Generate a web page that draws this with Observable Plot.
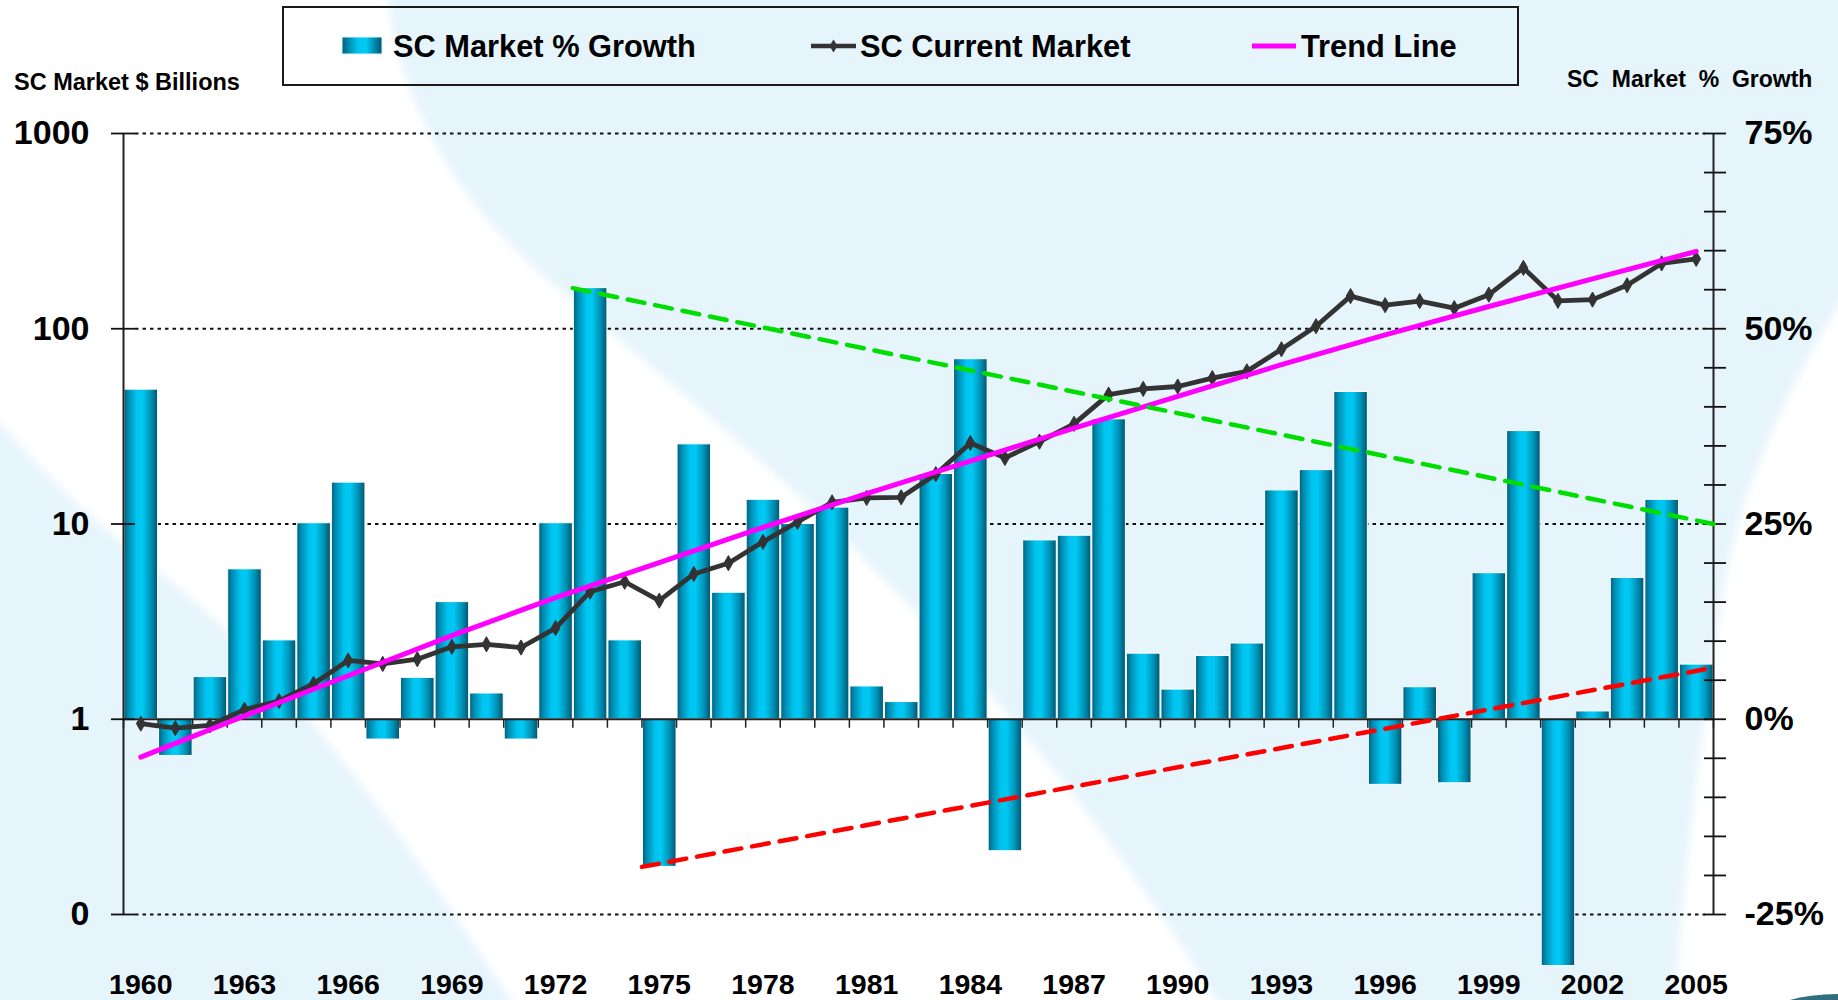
<!DOCTYPE html>
<html>
<head>
<meta charset="utf-8">
<script src="https://cdn.jsdelivr.net/npm/d3@7"></script>
<script src="https://cdn.jsdelivr.net/npm/@observablehq/plot@0.6"></script>
<style>
  html, body { margin: 0; padding: 0; background: #e6f4fc; }
  #wrap { position: relative; width: 1838px; height: 1000px; overflow: hidden;
          font-family: "Liberation Sans", Arial, Helvetica, sans-serif; font-weight: bold; color: #000; }
  #wrap > svg { position: absolute; left: 0; top: 0; }
</style>
</head>
<body>
<div id="wrap">
  <svg id="bg" width="1838" height="1000">
    <defs><filter id="soft" x="-10%" y="-10%" width="120%" height="120%"><feGaussianBlur stdDeviation="5"/></filter></defs>
    <rect width="1838" height="1000" fill="#e6f4fc"/>
    <path fill="#ffffff" filter="url(#soft)" d="M-30,-30 L385,-30 C 392,90 450,200 560,290 C 680,390 800,490 885,580 C 1010,710 1120,840 1235,1030 L530,1030 C 420,860 300,680 150,565 C 90,520 40,470 -30,390 Z"/>
    <path fill="#ffffff" filter="url(#soft)" d="M1870,255 C 1795,370 1745,470 1725,580 C 1705,700 1685,850 1672,1030 L1870,1030 Z"/>
    <ellipse cx="1838" cy="1016" rx="70" ry="22" fill="#2f6f7e"/>
    <ellipse cx="1842" cy="1020" rx="62" ry="18" fill="#e6f4fc"/>
  </svg>
</div>
<script>
// ---------------- data ----------------
const years = [1960,1961,1962,1963,1964,1965,1966,1967,1968,1969,
               1970,1971,1972,1973,1974,1975,1976,1977,1978,1979,
               1980,1981,1982,1983,1984,1985,1986,1987,1988,1989,
               1990,1991,1992,1993,1994,1995,1996,1997,1998,1999,
               2000,2001,2002,2003,2004,2005];
// SC Market % Growth (right axis)
const growthPct = [42.2,-4.7,5.4,19.2,10.1,25.1,30.3,-2.6,5.3,15.0,
                   3.3,-2.6,25.1,55.2,10.1,-18.9,35.2,16.2,28.1,25.0,
                   27.1,4.2,2.2,31.4,46.1,-16.9,22.9,23.5,38.4,8.4,
                   3.8,8.1,9.7,29.3,31.9,41.9,-8.4,4.1,-8.2,18.7,
                   36.9,-31.6,1.0,18.1,28.1,7.0];
// SC Current Market, $ billions (left log axis)
const marketBillions = [0.95,0.90,0.93,1.12,1.24,1.52,2.0,1.92,2.03,2.35,
                        2.42,2.33,2.93,4.5,5.06,4.05,5.55,6.3,8.1,10.25,
                        12.9,13.6,13.7,18.0,26.0,21.8,26.4,32.6,46.0,49.2,
                        50.6,55.9,60.5,78.5,103,147,132,138.5,127.5,149.5,
                        205,139,141,167,216,228];
// Trend line, $ billions, read every 3 years
const trendYears = [1960,1963,1966,1969,1972,1975,1978,1981,1984,1987,1990,1993,1996,1999,2002,2005];
const trendBillions = [0.64,1.04,1.67,2.68,4.2,6.35,9.6,14.3,21.0,31.0,45.0,65.5,93,130,180,249];
// Green dashed line through growth peaks (x = bar edges: start of 1973 to end of 2005)
const peakLineX = [1973, 2006];
const peakLinePct = [55.2, 25];
// Red dashed line through growth troughs (start of 1975 to end of 2005)
const troughLineX = [1975, 2006];
const troughLinePct = [-18.9, 6.6];
// Ticks
const leftTickValues = [0.1, 1, 10, 100, 1000];
const leftTickLabels = ["0", "1", "10", "100", "1000"];
const rightTickValues = [-25, 0, 25, 50, 75];
const rightTickLabels = ["-25%", "0%", "25%", "50%", "75%"];
const rightMinorTicks = [-20,-15,-10,-5,5,10,15,20,30,35,40,45,55,60,65,70];
const gridPct = [-25, 25, 50, 75];
const xLabelYears = [1960,1963,1966,1969,1972,1975,1978,1981,1984,1987,1990,1993,1996,1999,2002,2005];
const yearEdges = [...years, 2006];

// ---------------- tables ----------------
const growthRows = years.map((year, i) => ({year, growth: growthPct[i]}));
const marketRows = years.map((year, i) => ({year, value: marketBillions[i]}));
const trendRows = trendYears.map((year, i) => ({year, value: trendBillions[i]}));
const peakRows = peakLineX.map((x, i) => ({x, pct: peakLinePct[i]}));
const troughRows = troughLineX.map((x, i) => ({x, pct: troughLinePct[i]}));

const W = 1838, H = 1000;
const frame = {width: W, height: H, marginTop: 133, marginRight: 125, marginBottom: 86, marginLeft: 123};
const font = '"Liberation Sans", Arial, Helvetica, sans-serif';
const baseStyle = {background: "transparent", overflow: "visible", fontFamily: font, fontWeight: "bold", fontSize: "34px", color: "#000"};
const xDomain = [1960, 2006];

// Layer A: grid, bars, zero axis, right axis
const plotA = Plot.plot({
  ...frame, style: baseStyle,
  x: {domain: xDomain, axis: null},
  y: {domain: [-25, 75], label: null},
  marks: [
    Plot.ruleY(gridPct, {stroke: "#111", strokeWidth: 2.2, strokeDasharray: "3.5,4", insetLeft: 12, insetRight: 8}),
    Plot.rectY(growthRows, {x: "year", interval: 1, y: "growth", fill: "url(#barGrad)", stroke: "#ffffff", strokeWidth: 1}),
    Plot.ruleX(yearEdges, {x: d => d, y1: 0, y2: -1.15, stroke: "#222", strokeWidth: 1.5}),
    Plot.ruleY([0], {stroke: "#222", strokeWidth: 2}),
    Plot.ruleX([2006], {y1: -25, y2: 75, stroke: "#222", strokeWidth: 2}),
    Plot.axisY({anchor: "right", ticks: rightMinorTicks, tickSize: 22, dx: -10, tickFormat: () => "", label: null, strokeWidth: 1.8, stroke: "#111"}),
    Plot.axisY({anchor: "right", ticks: rightTickValues, tickSize: 22, dx: -10, tickPadding: 19, label: null,
                tickFormat: d => rightTickLabels[rightTickValues.indexOf(d)], fontSize: 34, fontWeight: "bold", strokeWidth: 1.8, stroke: "#111"})
  ]
});

// Layer B: log scale lines, left axis, year labels
const plotB = Plot.plot({
  ...frame, style: baseStyle,
  x: {domain: xDomain},
  y: {type: "log", domain: [0.1, 1000], label: null},
  marks: [
    Plot.ruleX([1960], {y1: 0.1, y2: 1000, stroke: "#222", strokeWidth: 2}),
    Plot.axisY({anchor: "left", ticks: leftTickValues, tickSize: 24, dx: 12, tickPadding: 22, label: null,
                tickFormat: d => leftTickLabels[leftTickValues.indexOf(d)], fontSize: 34, fontWeight: "bold", strokeWidth: 1.8, stroke: "#111"}),
    Plot.axisX({anchor: "bottom", ticks: xLabelYears.map(y => y + 0.5), tickSize: 0, tickPadding: 59, label: null,
                tickFormat: d => String(Math.round(d - 0.5)), fontSize: 28.5, fontWeight: "bold"}),
    Plot.line(marketRows, {x: d => d.year + 0.5, y: "value", stroke: "#333333", strokeWidth: 4.8, strokeLinejoin: "round"}),
    Plot.dot(marketRows, {x: d => d.year + 0.5, y: "value", symbol: "diamond", r: 4.6, fill: "#333333", stroke: "#333333", strokeWidth: 1}),
    Plot.line(trendRows, {x: d => d.year + 0.5, y: "value", stroke: "#ff00ff", strokeWidth: 5, strokeLinecap: "round", strokeLinejoin: "round"})
  ]
});

// Layer C: dashed peak / trough lines (percent axis)
const plotC = Plot.plot({
  ...frame, style: baseStyle,
  x: {domain: xDomain, axis: null},
  y: {domain: [-25, 75], axis: null},
  marks: [
    Plot.line(peakRows, {x: "x", y: "pct", stroke: "#00dd00", strokeWidth: 4.5, strokeDasharray: "17,11"}),
    Plot.line(troughRows, {x: "x", y: "pct", stroke: "#ff0000", strokeWidth: 4.5, strokeDasharray: "17,11"})
  ]
});

const NS = "http://www.w3.org/2000/svg";
const defs = document.createElementNS(NS, "defs");
defs.innerHTML = `<linearGradient id="barGrad" x1="0" x2="1" y1="0" y2="0">
    <stop offset="0" stop-color="#005f7c"/>
    <stop offset="0.12" stop-color="#0089ae"/>
    <stop offset="0.38" stop-color="#00c4ef"/>
    <stop offset="0.55" stop-color="#00c9f3"/>
    <stop offset="0.8" stop-color="#0092b6"/>
    <stop offset="1" stop-color="#005570"/>
  </linearGradient>`;
plotA.prepend(defs);

const wrap = document.getElementById("wrap");
wrap.appendChild(plotA);
wrap.appendChild(plotB);
wrap.appendChild(plotC);

// Titles and legend
const ann = document.createElementNS(NS, "svg");
ann.setAttribute("width", W); ann.setAttribute("height", H);
ann.style.fontFamily = font; ann.style.fontWeight = "bold";
ann.innerHTML = `
  <defs><linearGradient id="legGrad" x1="0" x2="1"><stop offset="0" stop-color="#005f7c"/><stop offset="0.4" stop-color="#00c6f0"/><stop offset="0.6" stop-color="#00c9f3"/><stop offset="1" stop-color="#005570"/></linearGradient></defs>
  <text x="14" y="90" font-size="23.5">SC Market $ Billions</text>
  <text x="1567" y="87" font-size="23" style="white-space:pre">SC  Market  %  Growth</text>
  <rect x="283" y="7" width="1235" height="78" fill="none" stroke="#1a1a1a" stroke-width="2"/>
  <rect x="342" y="37" width="40" height="17" fill="url(#legGrad)" stroke="#d8f6ff" stroke-width="1"/>
  <text x="393" y="57" font-size="30.8">SC Market % Growth</text>
  <line x1="811" x2="856" y1="46" y2="46" stroke="#333" stroke-width="4.5"/>
  <path d="M833.5,39.5 L837.5,46 L833.5,52.5 L829.5,46 Z" fill="#333"/>
  <text x="860" y="57" font-size="30.8">SC Current Market</text>
  <line x1="1252" x2="1296" y1="46" y2="46" stroke="#ff00ff" stroke-width="5"/>
  <text x="1301" y="57" font-size="30.8">Trend Line</text>`;
wrap.appendChild(ann);
</script>
</body>
</html>
